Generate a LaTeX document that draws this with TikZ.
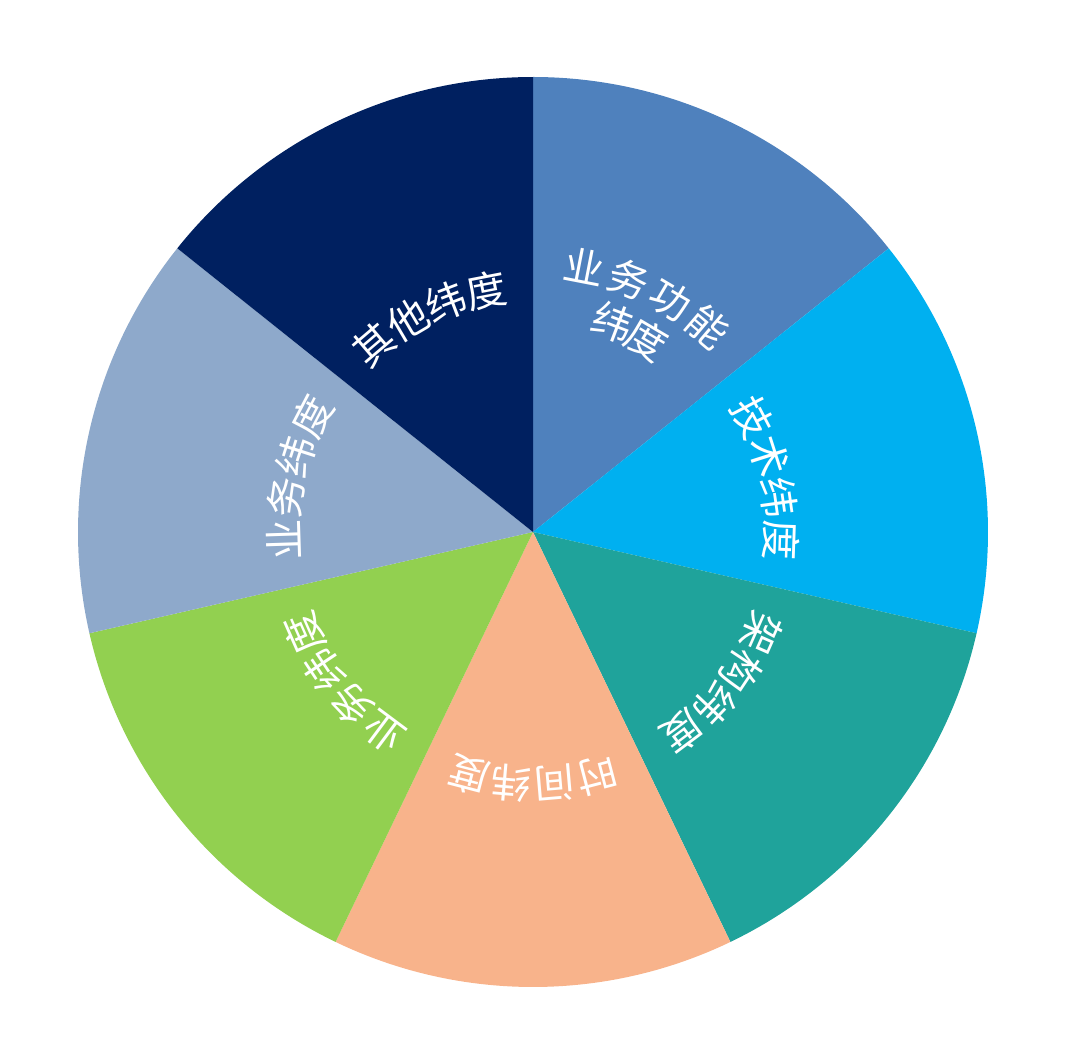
\documentclass[tikz,border=0pt]{standalone}
\usepackage{fontspec}
\newfontfamily\cjk{Noto Sans CJK SC}
\definecolor{gongneng}{HTML}{4F81BD}
\definecolor{jishu}{HTML}{00B0F0}
\definecolor{jiagou}{HTML}{1FA39B}
\definecolor{shijian}{HTML}{F8B38B}
\definecolor{yewuA}{HTML}{92D050}
\definecolor{yewuB}{HTML}{8EA9CB}
\definecolor{qita}{HTML}{002060}

\begin{document}
\begin{tikzpicture}[
		zi/.style={text=white,inner sep=0pt,font=\cjk\fontsize{11.5}{12}\selectfont}]
		\useasboundingbox (-5.33,-5.30) rectangle (5.47,5.32);
		\coordinate (o) at (0,0);
		% Sectors, clockwise from the top
		\foreach \a/\c in {90/gongneng,38.571/jishu,-12.857/jiagou,-64.286/shijian,-115.714/yewuA,-167.143/yewuB,-218.571/qita}
		\fill[\c] (o) -- (\a:4.55) arc[start angle=\a,end angle=\a-51.4286,radius=4.55] -- cycle;
		% Labels, one glyph at a time along the arc
		\foreach \m/\r/\n/\txt [count=\k] in {64.286/2.70/4/{业,务,功,能},64.286/2.24/2/{纬,度},12.857/2.48/4/{技,术,纬,度},-38.571/2.50/4/{架,构,纬,度},-90/2.52/4/{时,间,纬,度},-141.429/2.50/4/{业,务,纬,度},167.143/2.49/4/{业,务,纬,度},115.714/2.46/4/{其,他,纬,度}}
		\foreach \ch [count=\i] in \txt {
			\pgfmathsetmacro\a{\m+((\n+1)/2-\i)*9.8}
			\node[zi,rotate=\a-90] (t\k-\i) at (\a:\r) {\ch};
		}
	\end{tikzpicture}
\end{document}
